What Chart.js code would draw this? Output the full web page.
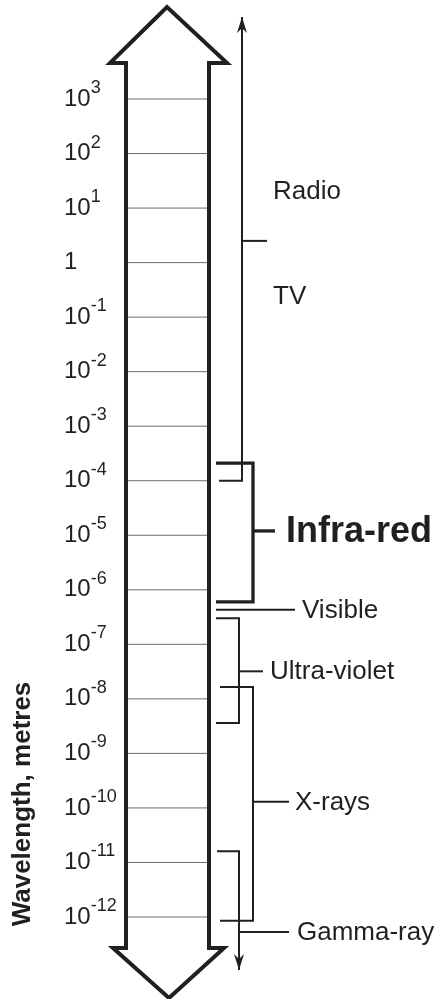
<!DOCTYPE html>
<html>
<head>
<meta charset="utf-8">
<script src="https://cdn.jsdelivr.net/npm/chart.js@4/dist/chart.umd.min.js"></script>
<style>
  html, body { margin: 0; padding: 0; background: #fff; }
  #wrap { width: 435px; height: 999px; position: relative; }
</style>
</head>
<body>
<div id="wrap"><canvas id="spectrum"></canvas></div>
<script>
// Escala de comprimento de onda (metros), uma linha por década
const exponents = [3, 2, 1, 0, -1, -2, -3, -4, -5, -6, -7, -8, -9, -10, -11, -12];
const tickBases = ['10', '10', '10', '1', '10', '10', '10', '10', '10', '10', '10', '10', '10', '10', '10', '10'];
const tickSups  = ['3', '2', '1', '', '-1', '-2', '-3', '-4', '-5', '-6', '-7', '-8', '-9', '-10', '-11', '-12'];

// Faixas do espectro: limite longo, limite curto e marca do rótulo (metros)
const bandNames = ['Radio', 'Infra-red', 'Visible', 'Ultra-violet', 'X-rays', 'Gamma-ray'];
const bandLong  = [3.2e4, 2.1e-4, 4.3e-7, 3.0e-7, 1.65e-8, 1.6e-11];
const bandShort = [1.0e-4, 6.0e-7, 4.3e-7, 3.6e-9, 8.5e-13, 1.07e-13];
const bandMark  = [2.5, 1.2e-5, 4.3e-7, 3.2e-8, 1.3e-10, 5.3e-13];

// Rótulos de texto e onde ficam
const labelNames = ['Radio', 'TV', 'Infra-red', 'Visible', 'Ultra-violet', 'X-rays', 'Gamma-ray'];
const labelAt    = [21, 0.25, 1.2e-5, 4.3e-7, 3.2e-8, 1.3e-10, 5.3e-13];

// Seta dupla grande: ponta, base da cabeça, fim da haste, ponta de baixo
const arrowTip = Math.pow(10, 4.687);
const arrowBase = Math.pow(10, 3.66);
const arrowEnd = Math.pow(10, -12.569);
const arrowBottom = Math.pow(10, -13.485);

const INK = '#231f20';
const FONT = '"Liberation Sans", Arial, Helvetica, sans-serif';

// colunas (px) de cada colchete
const bandStyle = [
  { spine: 242, hook: 219, tip: 267, text: 273, lw: 2, open: 'top' },
  { spine: 253, hook: 216, tip: 275, text: 286, lw: 3.3 },
  { spine: null, hook: 216, tip: 295, text: 302, lw: 2 },
  { spine: 239, hook: 216, tip: 263, text: 270, lw: 2 },
  { spine: 253, hook: 220, tip: 289, text: 295, lw: 2 },
  { spine: 239, hook: 217, tip: 289, text: 297, lw: 2, open: 'bottom' }
];
const labelX = [273, 273, 286, 302, 270, 295, 297];

function lineSet(points, width, color) {
  return {
    data: points,
    showLine: true,
    borderColor: color || INK,
    borderWidth: width,
    pointRadius: 0,
    pointHoverRadius: 0,
    tension: 0,
    fill: false,
    clip: false,
    borderCapStyle: 'butt',
    borderJoinStyle: 'miter'
  };
}

const datasets = [];

// contorno da seta dupla
datasets.push(lineSet([
  { x: 126, y: 1e-5 }, { x: 126, y: arrowBase }, { x: 110, y: arrowBase },
  { x: 167, y: arrowTip }, { x: 227, y: arrowBase }, { x: 209, y: arrowBase },
  { x: 209, y: arrowEnd }, { x: 224, y: arrowEnd }, { x: 169, y: arrowBottom },
  { x: 113, y: arrowEnd }, { x: 126, y: arrowEnd }, { x: 126, y: 1e-5 }
], 4));

// linhas das décadas dentro da seta
exponents.forEach(function(e) {
  datasets.push(lineSet([{ x: 128, y: Math.pow(10, e) }, { x: 207, y: Math.pow(10, e) }], 1, '#6d6e71'));
});

// colchetes das faixas
bandNames.forEach(function(name, i) {
  const s = bandStyle[i];
  let pts;
  if (s.spine === null) {
    pts = [{ x: s.hook, y: bandMark[i] }, { x: s.tip, y: bandMark[i] }];
    datasets.push(lineSet(pts, s.lw));
    return;
  }
  if (s.open === 'top') {
    pts = [{ x: s.spine, y: bandLong[i] }, { x: s.spine, y: bandShort[i] }, { x: s.hook, y: bandShort[i] }];
  } else if (s.open === 'bottom') {
    pts = [{ x: s.hook, y: bandLong[i] }, { x: s.spine, y: bandLong[i] }, { x: s.spine, y: bandShort[i] }];
  } else {
    pts = [{ x: s.hook, y: bandLong[i] }, { x: s.spine, y: bandLong[i] },
           { x: s.spine, y: bandShort[i] }, { x: s.hook, y: bandShort[i] }];
  }
  datasets.push(lineSet(pts, s.lw));
  datasets.push(lineSet([{ x: s.spine, y: bandMark[i] }, { x: s.tip, y: bandMark[i] }], s.lw));
});

function arrowHead(ctx, x, y, dir) {
  ctx.save();
  ctx.fillStyle = INK;
  ctx.beginPath();
  ctx.moveTo(x, y);
  ctx.lineTo(x - 5, y + dir * 16);
  ctx.lineTo(x, y + dir * 11);
  ctx.lineTo(x + 5, y + dir * 16);
  ctx.closePath();
  ctx.fill();
  ctx.restore();
}

const textPlugin = {
  id: 'spectrumText',
  afterDatasetsDraw: function(chart) {
    const ctx = chart.ctx;
    const ys = chart.scales.y;
    ctx.save();
    ctx.fillStyle = INK;
    ctx.textBaseline = 'middle';
    ctx.textAlign = 'left';

    // rótulos das décadas
    exponents.forEach(function(e, i) {
      const py = ys.getPixelForValue(Math.pow(10, e));
      ctx.font = '24px ' + FONT;
      ctx.fillText(tickBases[i], 64, py);
      if (tickSups[i]) {
        const w = ctx.measureText(tickBases[i]).width;
        ctx.font = '18px ' + FONT;
        ctx.fillText(tickSups[i], 64 + w, py - 11);
      }
    });

    // nomes das faixas
    labelNames.forEach(function(name, i) {
      const py = ys.getPixelForValue(labelAt[i]);
      ctx.font = (name === 'Infra-red' ? 'bold 36px ' : '26px ') + FONT;
      ctx.fillText(name, labelX[i], py + 1);
    });

    // pontas das setas finas
    bandStyle.forEach(function(s, i) {
      if (s.open === 'top') arrowHead(ctx, s.spine, ys.getPixelForValue(bandLong[i]), 1);
      if (s.open === 'bottom') arrowHead(ctx, s.spine, ys.getPixelForValue(bandShort[i]), -1);
    });

    // título do eixo
    ctx.translate(23, 804);
    ctx.rotate(-Math.PI / 2);
    ctx.textAlign = 'center';
    ctx.font = 'bold 26px ' + FONT;
    ctx.fillText('Wavelength, metres', 0, 0);
    ctx.restore();
  }
};

new Chart(document.getElementById('spectrum'), {
  type: 'scatter',
  data: { datasets: datasets },
  options: {
    responsive: true,
    maintainAspectRatio: false,
    animation: false,
    layout: { padding: 0 },
    plugins: { legend: { display: false }, tooltip: { enabled: false } },
    events: [],
    scales: {
      x: { type: 'linear', min: 0, max: 435, display: false },
      y: { type: 'logarithmic', min: Math.pow(10, -13.5037), max: Math.pow(10, 4.8154), display: false }
    }
  },
  plugins: [textPlugin]
});
</script>
</body>
</html>
